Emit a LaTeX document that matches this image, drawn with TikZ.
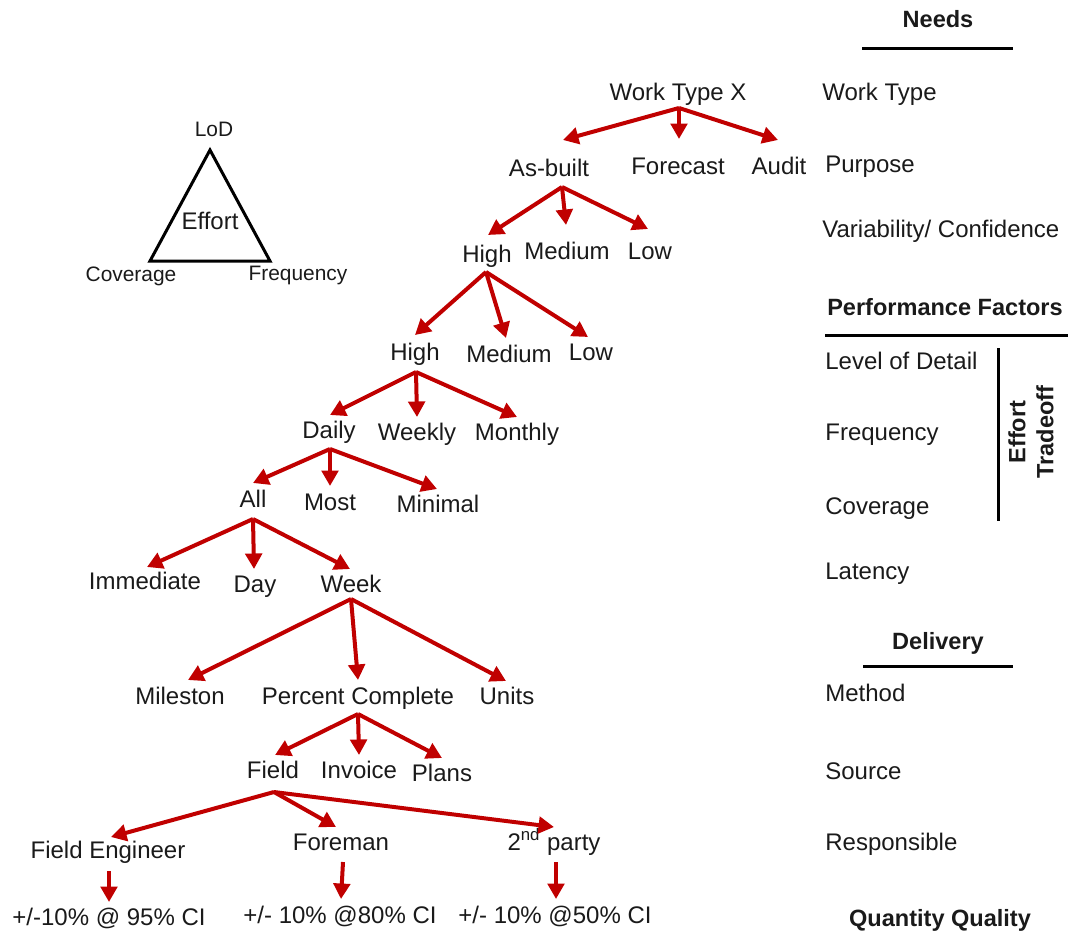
\documentclass[tikz,border=0pt]{standalone}
\usepackage{fontspec}
\setmainfont{Liberation Sans}
\usetikzlibrary{arrows.meta,calc}
\definecolor{ink}{HTML}{1A1A1A}
\definecolor{arrowred}{HTML}{C00000}
\begin{document}
\begin{tikzpicture}[x=0.02cm,y=-0.02cm,
  lbl/.style={inner sep=0pt, text height=0.80em, text depth=0.11em, text=ink,
              font=\fontsize{13.66}{16}\selectfont},
  small/.style={lbl, font=\fontsize{11.9}{14}\selectfont},
  head/.style={lbl, font=\fontsize{13.4}{16}\selectfont\bfseries},
  side/.style={lbl, anchor=west},
  redarr/.style={draw=arrowred, line width=0.08cm,
                 -{Triangle[length=0.31cm,width=0.33cm]}},
  rule/.style={draw=black, line width=0.06cm}]
\useasboundingbox (0,0) rectangle (1070,950);

% effort triangle
\coordinate (apex) at (210,150);
\coordinate (cornerL) at (150,261);
\coordinate (cornerR) at (270,261);
\draw[line width=0.06cm, line join=miter] (apex) -- (cornerL) -- (cornerR) -- cycle;
\node[lbl] (effort) at (210,223) {Effort};
\node[small] (lod) at (214,130) {LoD};
\node[small] (cov) at (131,275) {Coverage};
\node[small] (freq) at (298,274) {Frequency};

% decision tree
\node[lbl] (wtx) at (678,94) {Work Type X};
\node[lbl] (asb) at (549,170) {As-built};
\node[lbl] (fcst) at (678,168) {Forecast};
\node[lbl] (aud) at (779,168) {Audit};
\node[lbl] (hiA) at (487,256) {High};
\node[lbl] (medA) at (567,253) {Medium};
\node[lbl] (lowA) at (650,253) {Low};
\node[lbl] (hiB) at (415,354) {High};
\node[lbl] (medB) at (509,356) {Medium};
\node[lbl] (lowB) at (591,354) {Low};
\node[lbl] (daily) at (329,432) {Daily};
\node[lbl] (weekly) at (417,434) {Weekly};
\node[lbl] (monthly) at (517,434) {Monthly};
\node[lbl] (all) at (253,501) {All};
\node[lbl] (most) at (330,504) {Most};
\node[lbl] (minimal) at (438,506) {Minimal};
\node[lbl] (immed) at (145,583) {Immediate};
\node[lbl] (day) at (255,586) {Day};
\node[lbl] (week) at (351,586) {Week};
\node[lbl] (mile) at (180,698) {Mileston};
\node[lbl] (pct) at (358,698) {Percent Complete};
\node[lbl] (units) at (507,698) {Units};
\node[lbl] (field) at (273,772) {Field};
\node[lbl] (invoice) at (359,772) {Invoice};
\node[lbl] (plans) at (442,775) {Plans};
\node[lbl] (fe) at (108,852) {Field Engineer};
\node[lbl] (foreman) at (341,844) {Foreman};
\node[lbl] (party) at (554,844) {2\textsuperscript{nd} party};
\node[lbl] (ciA) at (109,919) {+/-10\% @ 95\% CI};
\node[lbl] (ciB) at (340,917) {+/- 10\% @80\% CI};
\node[lbl] (ciC) at (555,917) {+/- 10\% @50\% CI};

% tree connectors
\draw[redarr] ($(wtx)+(1,14)$) -- ($(asb)+(14,-30)$);
\draw[redarr] ($(wtx)+(1,14)$) -- ($(fcst)+(1,-29)$);
\draw[redarr] ($(wtx)+(1,14)$) -- ($(aud)+(-1,-28)$);

\draw[redarr] ($(asb)+(13,17)$) -- ($(hiA)+(1,-21)$);
\draw[redarr] ($(asb)+(13,17)$) -- ($(medA)+(-1,-28)$);
\draw[redarr] ($(asb)+(13,17)$) -- ($(lowA)+(-2,-24)$);

\draw[redarr] ($(hiA)+(-1,16)$) -- ($(hiB)+(0,-19)$);
\draw[redarr] ($(hiA)+(-1,16)$) -- ($(medB)+(-3,-18)$);
\draw[redarr] ($(hiA)+(-1,16)$) -- ($(lowB)+(-3,-17)$);

\draw[redarr] ($(hiB)+(1,18)$) -- ($(daily)+(1,-17)$);
\draw[redarr] ($(hiB)+(1,18)$) -- ($(weekly)+(0,-17)$);
\draw[redarr] ($(hiB)+(1,18)$) -- ($(monthly)+(0,-17)$);

\draw[redarr] ($(daily)+(1,17)$) -- ($(all)+(0,-18)$);
\draw[redarr] ($(daily)+(1,17)$) -- ($(most)+(0,-18)$);
\draw[redarr] ($(daily)+(1,17)$) -- ($(minimal)+(-1,-17)$);

\draw[redarr] ($(all)+(0,18)$) -- ($(immed)+(2,-16)$);
\draw[redarr] ($(all)+(0,18)$) -- ($(day)+(-1,-17)$);
\draw[redarr] ($(all)+(0,18)$) -- ($(week)+(-1,-17)$);

\draw[redarr] ($(week)+(0,13)$) -- ($(mile)+(8,-18)$);
\draw[redarr] ($(week)+(0,13)$) -- ($(pct)+(0,-18)$);
\draw[redarr] ($(week)+(0,13)$) -- ($(units)+(-1,-17)$);

\draw[redarr] ($(pct)+(0,16)$) -- ($(field)+(2,-17)$);
\draw[redarr] ($(pct)+(0,16)$) -- ($(invoice)+(0,-17)$);
\draw[redarr] ($(pct)+(0,16)$) -- ($(plans)+(0,-17)$);

\draw[redarr] ($(field)+(1,20)$) -- ($(fe)+(3,-15)$);
\draw[redarr] ($(field)+(1,20)$) -- ($(foreman)+(-5,-17)$);
\draw[redarr] ($(field)+(1,20)$) -- ($(party)+(0,-17)$);

\draw[redarr] ($(fe)+(1,19)$) -- ($(ciA)+(0,-17)$);
\draw[redarr] ($(foreman)+(2,18)$) -- ($(ciB)+(1,-18)$);
\draw[redarr] ($(party)+(2,18)$) -- ($(ciC)+(1,-18)$);

% right-hand legend
\node[head] (needs) at (938,21) {Needs};
\coordinate (needsL) at (862,48);
\coordinate (needsR) at (1013,48);
\draw[rule] (needsL) -- (needsR);
\node[side] (sWork) at (822,94) {Work Type};
\node[side] (sPurp) at (825,166) {Purpose};
\node[side] (sVar) at (822,231) {Variability/ Confidence};

\node[head] (perf) at (945,309) {Performance Factors};
\coordinate (perfL) at (825,335);
\coordinate (perfR) at (1068,335);
\draw[rule] (perfL) -- (perfR);
\node[side] (sLod) at (825,363) {Level of Detail};
\node[side] (sFreq) at (825,434) {Frequency};
\node[side] (sCov) at (825,508) {Coverage};
\coordinate (barT) at (998,348);
\coordinate (barB) at (998,521);
\draw[rule] (barT) -- (barB);
\node[head, rotate=90, align=center, text height=, text depth=] (trade) at (1031,432) {Effort\\Tradeoff};
\node[side] (sLat) at (825,573) {Latency};

\node[head] (deliv) at (938,643) {Delivery};
\coordinate (delL) at (863,666);
\coordinate (delR) at (1013,666);
\draw[rule] (delL) -- (delR);
\node[side] (sMeth) at (825,695) {Method};
\node[side] (sSrc) at (825,773) {Source};
\node[side] (sResp) at (825,844) {Responsible};
\node[head] (qq) at (940,920) {Quantity Quality};
\end{tikzpicture}
\end{document}
